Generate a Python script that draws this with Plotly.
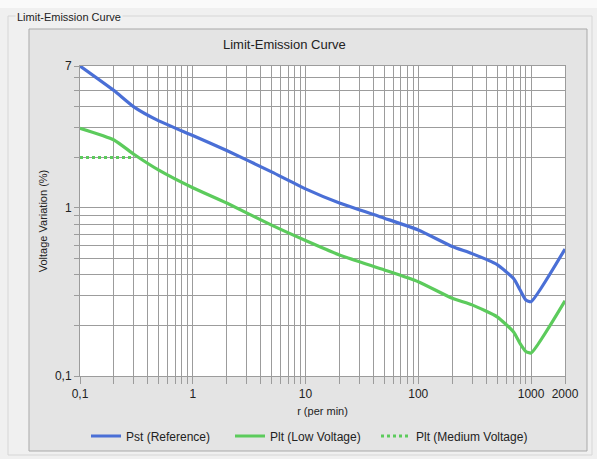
import plotly.graph_objects as go

# ---- data ----
r_values = [0.1, 0.2, 0.3, 0.5, 1, 2, 5, 10, 20, 50, 100, 200, 300, 500, 700, 800, 900, 1000, 2000]
pst_reference = [7.0, 5.0, 4.0, 3.3, 2.7, 2.2, 1.64, 1.3, 1.07, 0.87, 0.74, 0.59, 0.535, 0.46, 0.38, 0.325, 0.283, 0.277, 0.57]
plt_low_voltage = [2.98, 2.54, 2.09, 1.68, 1.32, 1.07, 0.79, 0.64, 0.525, 0.428, 0.364, 0.29, 0.265, 0.225, 0.183, 0.156, 0.14, 0.137, 0.28]
r_medium = [0.1, 0.3]
plt_medium_voltage = [2.0, 2.0]

x_grid = [0.1, 0.2, 0.3, 0.4, 0.5, 0.6, 0.7, 0.8, 0.9,
          1, 2, 3, 4, 5, 6, 7, 8, 9,
          10, 20, 30, 40, 50, 60, 70, 80, 90,
          100, 200, 300, 400, 500, 600, 700, 800, 900,
          1000, 2000]
x_labels = {0.1: "0,1", 1: "1", 10: "10", 100: "100", 1000: "1000", 2000: "2000"}
y_grid = [0.1, 0.2, 0.3, 0.4, 0.5, 0.6, 0.7, 0.8, 0.9, 1, 2, 3, 4, 5, 6, 7]
y_labels = {0.1: "0,1", 1: "1", 7: "7"}

W, H = 597, 459
L, R, T, B = 80, 565, 66, 376


def fx(px):
    return (px - L) / (R - L)


def fy(py):
    return (B - py) / (B - T)


BLUE = "#4a6fd6"
GREEN = "#5ccb5c"
GRID = "#9c9c9c"
FONT = "Liberation Sans, Arial, sans-serif"

fig = go.Figure()
fig.add_trace(go.Scatter(x=r_values, y=pst_reference, mode="lines", name="Pst (Reference)",
                         line=dict(color=BLUE, width=3.2, shape="spline", smoothing=0.5)))
fig.add_trace(go.Scatter(x=r_values, y=plt_low_voltage, mode="lines", name="Plt (Low Voltage)",
                         line=dict(color=GREEN, width=3.2, shape="spline", smoothing=0.5)))
fig.add_trace(go.Scatter(x=r_medium, y=plt_medium_voltage, mode="lines", name="Plt (Medium Voltage)",
                         line=dict(color=GREEN, width=3, dash="dot"), legend="legend2"))

shapes = [
    dict(type="rect", xref="paper", yref="paper", x0=fx(0), x1=fx(W), y0=fy(0), y1=fy(8),
         fillcolor="#fafafa", line=dict(width=0), layer="below"),
    dict(type="rect", xref="paper", yref="paper", x0=fx(8), x1=fx(592), y0=fy(16), y1=fy(455),
         fillcolor="rgba(0,0,0,0)", line=dict(color="#d6d6d6", width=1), layer="below"),
    dict(type="rect", xref="paper", yref="paper", x0=fx(29), x1=fx(587), y0=fy(29), y1=fy(451),
         fillcolor="#e4e4e4", line=dict(color="#a9a9a9", width=1), layer="below"),
    dict(type="rect", xref="paper", yref="paper", x0=0, x1=1, y0=0, y1=1,
         fillcolor="white", line=dict(width=0), layer="below"),
]

annotations = [
    dict(text="Limit-Emission Curve", xref="paper", yref="paper", x=fx(15), y=fy(17),
         xanchor="left", yanchor="middle", showarrow=False, bgcolor="#f0f0f0",
         font=dict(family=FONT, size=11, color="#222222")),
]

legend_font = dict(family=FONT, size=12, color="#222222")

fig.update_layout(
    width=W, height=H,
    margin=dict(l=L, r=W - R, t=T, b=H - B, autoexpand=False),
    paper_bgcolor="#f0f0f0",
    plot_bgcolor="white",
    font=dict(family=FONT, size=12, color="#222222"),
    title=dict(text="Limit-Emission Curve", x=fx(311), xanchor="center", y=1 - 44 / H, yanchor="middle",
               font=dict(family=FONT, size=13, color="#222222")),
    shapes=shapes,
    annotations=annotations,
    showlegend=True,
    legend=dict(orientation="h", x=fx(86), xanchor="left", y=fy(436), yanchor="middle",
                bgcolor="rgba(0,0,0,0)", font=legend_font,
                itemwidth=30, entrywidth=99, entrywidthmode="pixels", tracegroupgap=0),
    legend2=dict(orientation="h", x=fx(376), xanchor="left", y=fy(436), yanchor="middle",
                 bgcolor="rgba(0,0,0,0)", font=legend_font, itemwidth=30),
)

fig.update_xaxes(
    type="log", range=[-1, 3.30103],
    tickvals=x_grid, ticktext=[x_labels.get(v, "") for v in x_grid],
    showgrid=True, gridcolor=GRID, gridwidth=1,
    ticks="outside", ticklen=7, tickcolor=GRID, tickwidth=1,
    showline=True, mirror=True, linecolor=GRID, linewidth=1,
    zeroline=False,
    tickfont=dict(family=FONT, size=12, color="#222222"),
    title=dict(text="r (per min)", standoff=6, font=dict(family=FONT, size=11, color="#222222")),
)
fig.update_yaxes(
    type="log", range=[-1, 0.845098],
    tickvals=y_grid, ticktext=[y_labels.get(v, "") for v in y_grid],
    showgrid=True, gridcolor=GRID, gridwidth=1,
    ticks="outside", ticklen=5, tickcolor=GRID, tickwidth=1,
    showline=True, mirror=True, linecolor=GRID, linewidth=1,
    zeroline=False,
    tickfont=dict(family=FONT, size=12, color="#222222"),
    title=dict(text="Voltage Variation (%)", standoff=5, font=dict(family=FONT, size=11, color="#222222")),
)

fig.write_html("out.html", config={"displayModeBar": False},
               post_script="document.body.style.margin='0px';")
